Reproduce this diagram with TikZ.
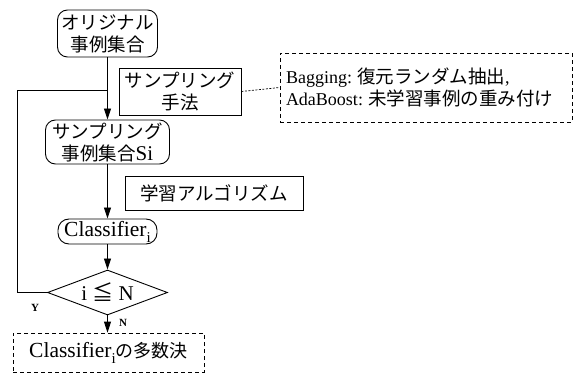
\documentclass[tikz,border=0pt]{standalone}
\usepackage{fontspec}
\setmainfont{Liberation Serif}
\newfontfamily\jp{Noto Sans CJK JP}
\usetikzlibrary{shapes.geometric,arrows.meta}
\newcommand\clsi{Classifier\raisebox{-6pt}{\fontsize{15}{15}\selectfont i}}
\begin{document}
\begin{tikzpicture}[x=1pt,y=-1pt,
 box/.style={draw, line width=0.9pt, inner sep=0pt, align=center},
 rbox/.style={box, rounded corners=10pt},
 dbox/.style={draw, dashed, dash pattern=on 4pt off 3pt, line width=0.8pt, inner sep=0pt},
 conn/.style={line width=0.9pt},
 arr/.style={conn, -{Triangle[length=11pt,width=7pt]}},
 jfont/.style={font=\jp\fontsize{18.5}{22}\selectfont},
 lbl/.style={font=\fontsize{11}{11}\selectfont\bfseries, inner sep=0pt},
]
\useasboundingbox (0,0) rectangle (573,374);

\node[rbox, jfont, minimum width=100pt, minimum height=47pt] (orig) at (107.5,33.5) {オリジナル\\事例集合};
\node[box, jfont, minimum width=122pt, minimum height=47pt] (samp) at (180,91.5) {サンプリング\\手法};
\node[dbox, minimum width=292pt, minimum height=69pt, text width=280pt, inner xsep=6pt, align=left,
      font=\fontsize{18}{21.5}\selectfont] (desc) at (426,87.5)
  {Bagging:\hspace{5pt}{\jp\fontsize{18.5}{21.5}\selectfont 復元ランダム抽出},\\AdaBoost:\hspace{5pt}{\jp\fontsize{18.5}{21.5}\selectfont 未学習事例の重み付け}};
\node[rbox, jfont, minimum width=124pt, minimum height=44pt] (sset) at (107.5,142) {サンプリング\\事例集合{\rmfamily\fontsize{21}{22}\selectfont Si}};
\node[box, jfont, minimum width=178pt, minimum height=34pt] (learn) at (214,193) {学習アルゴリズム};
\node[rbox, minimum width=99pt, minimum height=25pt, rounded corners=11pt, font=\fontsize{21.5}{22}\selectfont] (cls) at (107.5,231.5) {\clsi};
\node[draw, line width=0.9pt, diamond, shape aspect=2.65, inner sep=0pt, minimum width=120pt, minimum height=45pt,
      font=\fontsize{21}{22}\selectfont] (dia) at (107.5,292.5) {i {\jp ≦} N};
\node[dbox, minimum width=191pt, minimum height=39pt, font=\fontsize{21.5}{22}\selectfont] (final) at (108.5,352.5)
  {\clsi{\jp\fontsize{18}{22}\selectfont の多数決}};

\coordinate (lp) at (17,90);
\coordinate (jn) at (107.5,90);

\draw[arr] (orig.south) -- (sset.north);
\draw[arr] (sset.south) -- (cls.north);
\draw[arr] (cls.south) -- (dia.north);
\draw[arr] (dia.south) -- (dia.south |- final.north);
\draw[conn] (dia.west) -| (lp) -- (jn);
\draw[dashed, dash pattern=on 2pt off 1.5pt, line width=0.7pt] (samp.east) -- (desc.west);

\node[lbl] (ylbl) at (35,308) {Y};
\node[lbl] (nlbl) at (123,323) {N};
\end{tikzpicture}
\end{document}
